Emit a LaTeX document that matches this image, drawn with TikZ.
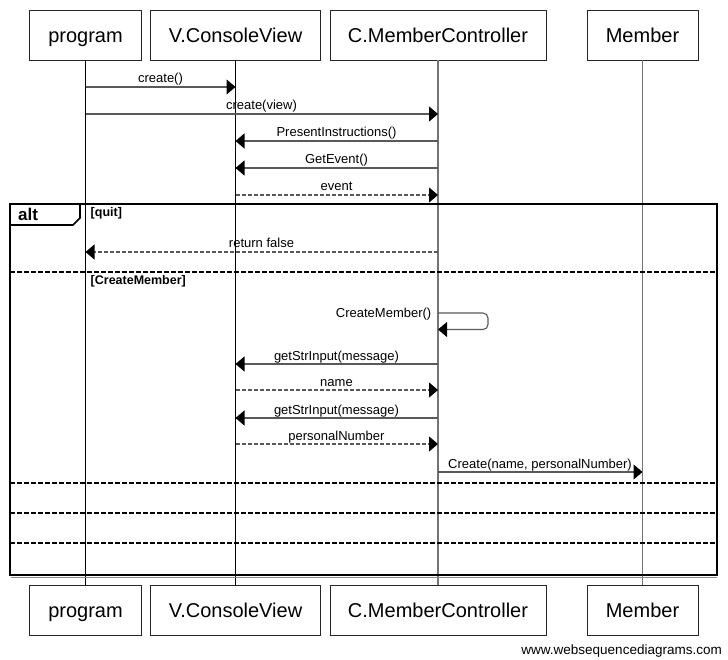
\documentclass[tikz,border=0pt]{standalone}
\usepackage{fontspec}
\setmainfont{Liberation Sans}
\usetikzlibrary{arrows.meta}
\begin{document}
\begin{tikzpicture}[x=1pt,y=-1pt,
  actor/.style={draw=black!85, line width=0.8pt, minimum height=50pt, inner sep=0pt,
    text height=15pt, text depth=0pt,
    font=\fontsize{20}{24}\selectfont, fill=white},
  lifeA/.style={draw=black, line width=0.8pt},
  lifeB/.style={draw=black!55, line width=1.3pt},
  msg/.style={draw=black!65, line width=1.1pt,
    -{Triangle[length=9pt,width=15pt,fill=black,color=black]}},
  reply/.style={msg, dash pattern=on 4pt off 2pt},
  lbl/.style={font=\fontsize{13}{15}\selectfont, inner sep=0pt, anchor=base},
  guard/.style={font=\bfseries\fontsize{12.5}{14}\selectfont, inner sep=0pt, anchor=base west},
  divider/.style={draw=black, line width=1.4pt, dash pattern=on 5pt off 2pt},
]
\useasboundingbox (0,0) rectangle (728,660);

% participants, top and bottom
\node[actor, minimum width=112pt] (p)  at (85.5,35)  {program};
\node[actor, minimum width=170pt] (v)  at (235.5,35) {V.ConsoleView};
\node[actor, minimum width=216pt] (c)  at (438,35)   {C.MemberController};
\node[actor, minimum width=111pt] (m)  at (642.5,35) {Member};
\node[actor, minimum width=112pt] (pb) at (85.5,610)  {program};
\node[actor, minimum width=170pt] (vb) at (235.5,610) {V.ConsoleView};
\node[actor, minimum width=216pt] (cb) at (438,610)   {C.MemberController};
\node[actor, minimum width=111pt] (mb) at (642.5,610) {Member};

% lifelines
\draw[lifeA] (p.south) -- (pb.north);
\draw[lifeA] (v.south) -- (vb.north);
\draw[lifeB] (c.south) -- (cb.north);
\draw[lifeB] (m.south) -- (mb.north);

% alt frame
\draw[black!45, line width=1pt] (11,577) -- (717,577);
\draw[black, line width=2pt] (10,204) rectangle (717,575);
\draw[black, line width=1.6pt] (10,225) -- (73,225) -- (80,218) -- (80,204);
\node[font=\bfseries\fontsize{17}{20}\selectfont, inner sep=0pt, anchor=base west] (alt) at (18,220.5) {alt};
\node[guard] (g1) at (90.5,217) {[quit]};
\node[guard] (g2) at (90.5,285) {[CreateMember]};
\draw[divider] (10,272) -- (717,272);
\draw[divider] (10,483) -- (717,483);
\draw[divider] (10,513) -- (717,513);
\draw[divider] (10,543) -- (717,543);

% message rows
\coordinate (r1) at (0,87);
\coordinate (r2) at (0,114);
\coordinate (r3) at (0,141);
\coordinate (r4) at (0,168);
\coordinate (r5) at (0,195);
\coordinate (r6) at (0,252);
\coordinate (r7) at (0,313);
\coordinate (r7b) at (0,329.5);
\coordinate (r8) at (0,364);
\coordinate (r9) at (0,390);
\coordinate (r10) at (0,418);
\coordinate (r11) at (0,444);
\coordinate (r12) at (0,472);

\draw[msg] (p |- r1) -- (v |- r1);
\node[lbl] at (160.5,83) {create()};
\draw[msg] (p |- r2) -- (c |- r2);
\node[lbl] at (261.5,110) {create(view)};
\draw[msg] (c |- r3) -- (v |- r3);
\node[lbl] at (336.5,137) {PresentInstructions()};
\draw[msg] (c |- r4) -- (v |- r4);
\node[lbl] at (336.5,164) {GetEvent()};
\draw[reply] (v |- r5) -- (c |- r5);
\node[lbl] at (336.5,191) {event};

\draw[reply] (c |- r6) -- (p |- r6);
\node[lbl] at (261.5,248) {return false};

\draw[msg, rounded corners=5pt] (c |- r7) -- ++(50,0) -- ++(0,16.5) -- (c |- r7b);
\node[lbl, anchor=base east] at (431.5,317) {CreateMember()};
\draw[msg] (c |- r8) -- (v |- r8);
\node[lbl] at (336.5,360) {getStrInput(message)};
\draw[reply] (v |- r9) -- (c |- r9);
\node[lbl] at (336.5,386.5) {name};
\draw[msg] (c |- r10) -- (v |- r10);
\node[lbl] at (336.5,414) {getStrInput(message)};
\draw[reply] (v |- r11) -- (c |- r11);
\node[lbl] at (336.5,440.5) {personalNumber};
\draw[msg] (c |- r12) -- (m |- r12);
\node[lbl] at (540,468) {Create(name, personalNumber)};

\node[font=\fontsize{13.5}{16}\selectfont, inner sep=0pt, anchor=base east] (wm) at (722,654) {www.websequencediagrams.com};
\end{tikzpicture}
\end{document}
